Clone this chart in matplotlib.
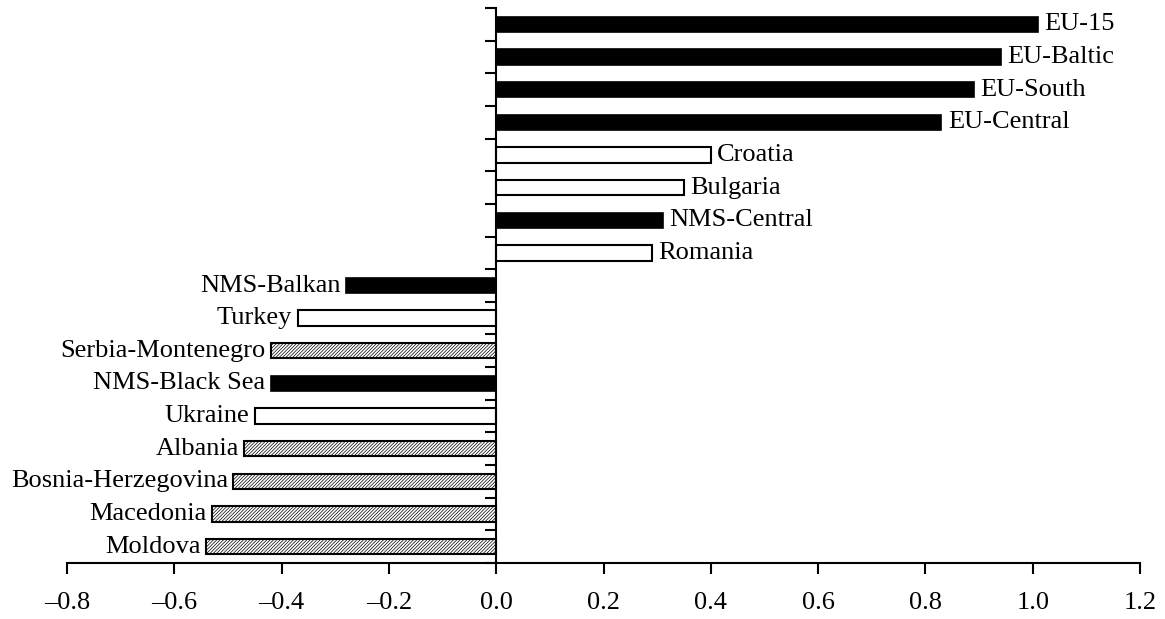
import numpy as np
import matplotlib.pyplot as plt

plt.rcParams['font.family'] = ['Liberation Serif', 'DejaVu Serif']
plt.rcParams['hatch.linewidth'] = 0.5

# categories from top to bottom
regions = ['EU-15', 'EU-Baltic', 'EU-South', 'EU-Central', 'Croatia', 'Bulgaria',
           'NMS-Central', 'Romania', 'NMS-Balkan', 'Turkey', 'Serbia-Montenegro',
           'NMS-Black Sea', 'Ukraine', 'Albania', 'Bosnia-Herzegovina',
           'Macedonia', 'Moldova']
values = [1.01, 0.94, 0.89, 0.83, 0.40, 0.35, 0.31, 0.29, -0.28, -0.37, -0.42,
          -0.42, -0.45, -0.47, -0.49, -0.53, -0.54]
# 'eu' = black, 'cand' = white, 'wb' = hatched
groups = ['eu', 'eu', 'eu', 'eu', 'cand', 'cand', 'eu', 'cand', 'eu', 'cand', 'wb',
          'eu', 'cand', 'wb', 'wb', 'wb', 'wb']
x_ticks = [-0.8, -0.6, -0.4, -0.2, 0.0, 0.2, 0.4, 0.6, 0.8, 1.0, 1.2]

fig = plt.figure(figsize=(11.65, 6.19), dpi=100)
ax = fig.add_axes([67 / 1165, 56 / 619, (1140 - 67) / 1165, (563 - 8) / 619])

n = len(regions)
ypos = np.arange(n)[::-1]

for y, v, g, name in zip(ypos, values, groups, regions):
    if g == 'eu':
        ax.barh(y, v, height=0.47, color='black', edgecolor='black', linewidth=1.2)
    elif g == 'cand':
        ax.barh(y, v, height=0.47, color='white', edgecolor='black', linewidth=1.5)
    else:
        ax.barh(y, v, height=0.47, color='white', edgecolor='black', linewidth=1.5,
                hatch='//////////')
    if v > 0:
        ax.text(v + 0.012, y, name, ha='left', va='center', fontsize=19)
    else:
        ax.text(v - 0.01, y, name, ha='right', va='center', fontsize=19)

ax.set_xlim(-0.8, 1.2)
ax.set_ylim(-0.5, n - 0.5)
ax.set_xticks(x_ticks)
ax.set_xticklabels([f'{t:.1f}'.replace('-', '\u2013') for t in x_ticks], fontsize=19)
ax.tick_params(axis='x', direction='out', length=8, width=1.5, pad=13)

# y axis sits at zero, ticks between the categories
ax.spines['left'].set_position(('data', 0))
ax.spines['top'].set_visible(False)
ax.spines['right'].set_visible(False)
ax.spines['left'].set_linewidth(1.5)
ax.spines['bottom'].set_linewidth(1.5)
ax.set_yticks(np.arange(n + 1) - 0.5)
ax.set_yticklabels([])
ax.tick_params(axis='y', direction='out', length=8, width=1.5)

fig.savefig('out.png', dpi=100)
